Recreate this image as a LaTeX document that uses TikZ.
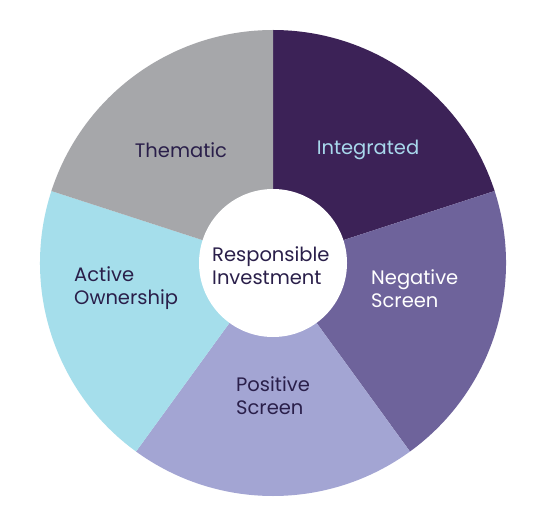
\documentclass[tikz,border=0pt]{standalone}
\usepackage{fontspec}
\setmainfont{Poppins}
\definecolor{cInt}{HTML}{3C2257}
\definecolor{cNeg}{HTML}{6E639B}
\definecolor{cPos}{HTML}{A3A5D3}
\definecolor{cAct}{HTML}{A5DEEB}
\definecolor{cThe}{HTML}{A6A7AA}
\definecolor{cTxt}{HTML}{2A1F4A}
\definecolor{cLbl}{HTML}{A8D8EC}
\tikzset{
  lbl/.style={font=\fontsize{19.5}{23}\selectfont, align=left, inner sep=0pt, text=cTxt},
}
\begin{document}
\begin{tikzpicture}[x=1pt,y=1pt]
\useasboundingbox (0,0) rectangle (553,520);
\fill[white] (0,0) rectangle (553,520);
\coordinate (c) at (273,257);
\def\R{233}
\def\r{74}
\fill[cInt] (c) -- ++(90:\R) arc[start angle=90,end angle=18,radius=\R] -- cycle;
\fill[cNeg] (c) -- ++(18:\R) arc[start angle=18,end angle=-54,radius=\R] -- cycle;
\fill[cPos] (c) -- ++(-54:\R) arc[start angle=-54,end angle=-126,radius=\R] -- cycle;
\fill[cAct] (c) -- ++(-126:\R) arc[start angle=-126,end angle=-198,radius=\R] -- cycle;
\fill[cThe] (c) -- ++(162:\R) arc[start angle=162,end angle=90,radius=\R] -- cycle;
\fill[white] (c) circle[radius=\r];
\node[lbl, anchor=west] (ri) at (212,254) {Responsible\\Investment};
\node[lbl, anchor=center, text=cLbl] (int) at (368,370) {Integrated};
\node[lbl, anchor=center] (the) at (181,370) {Thematic};
\node[lbl, anchor=west, text=white] (neg) at (371,231) {Negative\\Screen};
\node[lbl, anchor=west] (act) at (74,232) {Active\\Ownership};
\node[lbl, anchor=west] (pos) at (236,124) {Positive\\Screen};
\end{tikzpicture}
\end{document}
